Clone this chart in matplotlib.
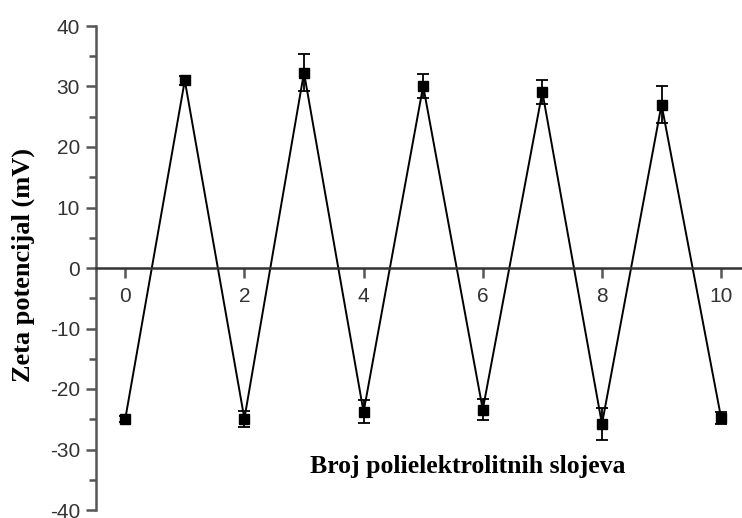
import matplotlib
matplotlib.use("Agg")
from matplotlib import pyplot as plt
import matplotlib.ticker as tck

plt.rcParams['axes.unicode_minus'] = False

# broj sloja i zeta potencijal (mV)
layers = [0, 1, 2, 3, 4, 5, 6, 7, 8, 9, 10]
zeta = [-25.0, 31.0, -24.9, 32.3, -23.8, 30.1, -23.4, 29.1, -25.8, 27.0, -24.8]
zeta_err = [0.5, 0.8, 1.3, 3.1, 1.9, 2.0, 1.7, 2.0, 2.7, 3.0, 1.0]

x_ticks = [0, 2, 4, 6, 8, 10]
y_ticks = [-40, -30, -20, -10, 0, 10, 20, 30, 40]

spine_col = '#555555'
label_font = dict(family='Liberation Serif', fontweight='bold')

fig = plt.figure(figsize=(7.42, 5.18), dpi=100)
ax = fig.add_axes([96/742, 8/518, 646/742, 484/518])

ax.errorbar(layers, zeta, yerr=zeta_err, color='black', linewidth=1.4,
            marker='s', markersize=7, capsize=4, elinewidth=1.3, capthick=1.3)

ax.set_xlim(-0.49, 10.35)
ax.set_ylim(-40, 40)

ax.spines['top'].set_visible(False)
ax.spines['right'].set_visible(False)
ax.spines['bottom'].set_position(('data', 0))
for s in ['left', 'bottom']:
    ax.spines[s].set_color(spine_col)
    ax.spines[s].set_linewidth(1.8)
ax.spines['bottom'].set_color('#333333')

ax.set_xticks(x_ticks)
ax.set_yticks(y_ticks)
ax.yaxis.set_minor_locator(tck.MultipleLocator(5))
ax.tick_params(axis='both', which='major', direction='out', length=7.5, width=1.8,
               color=spine_col, labelsize=15, labelcolor='#333333')
ax.tick_params(axis='y', which='minor', direction='out', length=5, width=1.8, color=spine_col)
ax.tick_params(axis='y', pad=4)
ax.tick_params(axis='x', pad=6)
for lab in ax.get_xticklabels() + ax.get_yticklabels():
    lab.set_family('Liberation Sans')

fig.text(23/742, 1 - 265/518, 'Zeta potencijal (mV)', rotation=90,
         ha='center', va='center', fontsize=19, **label_font)
fig.text(468/742, 1 - 466/518, 'Broj polielektrolitnih slojeva',
         ha='center', va='center', fontsize=18.5, **label_font)

fig.savefig('out.png', dpi=100)
